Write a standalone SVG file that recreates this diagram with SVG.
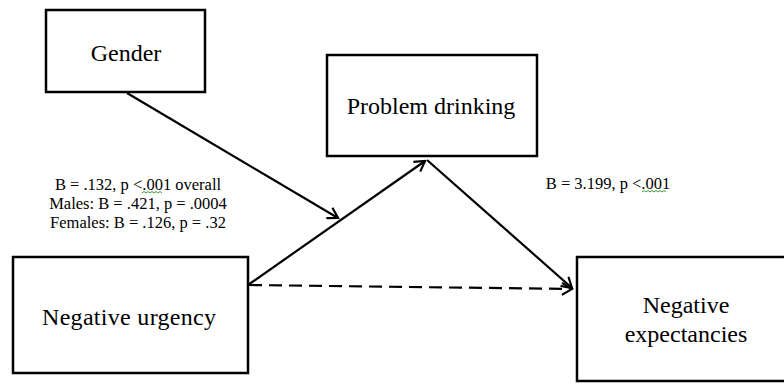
<svg xmlns="http://www.w3.org/2000/svg" width="784" height="384" viewBox="0 0 784 384">
<style>
.box{fill:#fff;stroke:#000;stroke-width:2.5}
.lbl{font-family:"Liberation Serif","Times New Roman",serif;font-size:24px;fill:#000;text-anchor:middle}
.note{font-family:"Liberation Serif","Times New Roman",serif;font-size:16.5px;fill:#000;text-anchor:middle}
.edge{stroke:#000;stroke-width:2.2;fill:none;marker-end:url(#arr)}
.dash{stroke-dasharray:13 7}
.sq{stroke:#3c9a3c;stroke-width:1;fill:none}
</style>
<defs>
<marker id="arr" viewBox="0 0 14 14" refX="12" refY="7" markerWidth="14" markerHeight="14" markerUnits="userSpaceOnUse" orient="auto">
<path d="M2,1 L12,7 L2,13" fill="none" stroke="#000" stroke-width="2.2"/>
</marker>
</defs>
<rect width="784" height="384" fill="#fff"/>
<g id="connectors">
<line class="edge" x1="127" y1="93" x2="338" y2="218"/>
<line class="edge" x1="248" y1="285" x2="425" y2="161"/>
<line class="edge" x1="427" y1="160" x2="572" y2="288"/>
<line class="edge dash" x1="249" y1="285" x2="572" y2="289"/>
</g>
<g id="gender">
<rect class="box" x="46" y="10" width="159" height="82"/>
<text class="lbl" x="126" y="61">Gender</text>
</g>
<g id="problem-drinking">
<rect class="box" x="327" y="55" width="210" height="101"/>
<text class="lbl" x="431" y="114">Problem drinking</text>
</g>
<g id="negative-urgency">
<rect class="box" x="13" y="257" width="235" height="116"/>
<text class="lbl" x="129" y="325" textLength="174" lengthAdjust="spacing">Negative urgency</text>
</g>
<g id="negative-expectancies">
<rect class="box" x="577" y="257" width="230" height="124"/>
<text class="lbl" x="686" y="313">Negative</text>
<text class="lbl" x="686" y="342">expectancies</text>
</g>
<g id="labels">
<text class="note" x="138" y="190">B = .132, p &lt;.001 overall</text>
<text class="note" x="138" y="209">Males: B = .421, p = .0004</text>
<text class="note" x="138" y="228">Females: B = .126, p = .32</text>
<text class="note" x="608" y="189">B = 3.199, p &lt;.001</text>
<path class="sq" d="M142,193 l2,-1.5 l2,1.5 l2,-1.5 l2,1.5 l2,-1.5 l2,1.5 l2,-1.5 l2,1.5 l2,-1.5 l2,1.5"/>
<path class="sq" d="M642,192 l2,-1.5 l2,1.5 l2,-1.5 l2,1.5 l2,-1.5 l2,1.5 l2,-1.5 l2,1.5 l2,-1.5 l2,1.5 l2,-1.5 l2,1.5"/>
</g>
</svg>
